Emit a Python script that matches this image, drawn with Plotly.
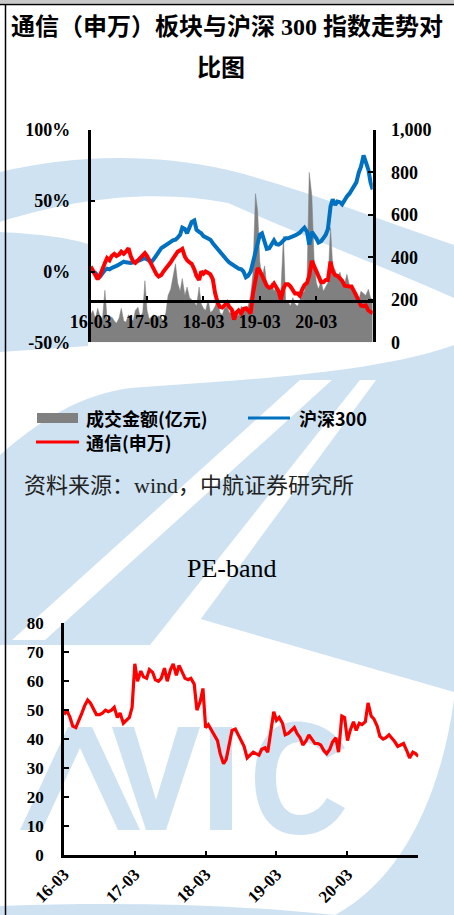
import pandas as pd
import plotly.graph_objects as go

W, H = 454, 915

# ---------------- data ----------------
dates = pd.date_range("2016-03-01", periods=121, freq="SMS")
year_ticks = ["2016-03-01", "2017-03-01", "2018-03-01", "2019-03-01", "2020-03-01"]
year_labels = ["16-03", "17-03", "18-03", "19-03", "20-03"]

hs300 = [2, 0, -1, -3, -3.5, -1, 1, 2, 1.5, 2.5,
         3, 4, 5, 6, 7, 6.5, 6, 6, 6.5, 7,
         7, 8, 9, 9.5, 8.5, 7.5, 7, 9, 12, 14,
         16.5, 17.5, 19, 20, 21, 22, 22.5, 24, 26, 31,
         30, 27, 30.5, 35, 36, 29.5, 28, 27, 25, 24,
         23, 22.5, 20, 18, 16, 14.5, 12, 10, 8, 6.5,
         5, 4, 3, 2, 1.5, 0, -4, -3, 0, 6,
         12, 17.5, 26, 27, 21, 16, 16.5, 18.5, 22, 19.5,
         19, 20, 21.5, 23.5, 23.5, 24, 24.5, 25.5, 26.5, 27.5,
         29.5, 31, 28, 19, 28, 26, 23.5, 20.5, 21.5, 23.5,
         26, 30, 46, 51, 47, 49.5, 49, 47.5, 51, 53,
         55, 57.5, 59.5, 63, 70, 74, 82, 78, 72, 63, 58]

telecom = [3.5, 1, -3, -5.5, -2.5, 2, 6, 9.5, 8, 11,
           12.5, 11, 12, 14, 12.5, 14, 16.5, 11, 7, 6,
           8, 10, 11.5, 13, 11, 8, 5.5, 1, -2, -3.5,
           -2.5, 0, 2, 3.5, 6.5, 9, 12, 14, 15, 16,
           10.5, 8, 6.5, 5.5, 1.5, -3, -6, 0, -1.5, 0,
           -1, -2, -5.5, -15, -22, -25, -25.5, -23.5, -22, -25,
           -27, -34, -29, -27.5, -29.5, -26.5, -26, -27.5, -29.5, -16,
           -6, 2.5, 0.5, -3, -7, -10, -11.5, -11, -8.5, -11,
           -14, -20, -12, -9, -9, -10.5, -13.5, -15.5, -15.5, -17,
           -12.5, -9.5, -8, -3, 7.5, 4, 0.5, -3.5, -7.5, -7.5,
           -6, -6, 7, 0, -2.5, -3, -4.5, -6.5, -10, -10.5,
           -10.5, -10.5, -13.5, -17, -21, -24, -24.5, -24, -27.5, -28.5, -29.5]

turnover = [130, 150, 110, 160, 120, 100, 245, 110, 95, 120,
            100, 90, 115, 160, 100, 95, 130, 110, 100, 150,
            165, 120, 140, 290, 150, 110, 120, 130, 105, 125,
            115, 100, 140, 220, 250, 310, 370, 280, 240, 300,
            220, 260, 210, 200, 190, 170, 260, 180, 160, 150,
            200, 140, 150, 170, 200, 140, 130, 160, 170, 140,
            135, 150, 120, 130, 170, 150, 160, 170, 220, 320,
            700, 620, 380, 300, 360, 270, 250, 280, 240, 260,
            230, 230, 500, 200, 190, 170, 210, 180, 170, 200,
            230, 240, 300, 800, 690, 400, 280, 250, 290, 240,
            260, 280, 540, 360, 340, 300, 330, 290, 280, 320,
            270, 260, 230, 210, 200, 240, 230, 220, 250, 210, 200]

pe = [48.5, 50, 47.5, 44.5, 44, 46, 49, 51.5, 53.5, 52.5,
      50, 48.5, 48.5, 49, 50, 49.5, 50, 51, 47.5, 49,
      45.5, 46.5, 47.5, 51, 66, 60, 63.5, 61.5, 61, 64,
      63, 60.5, 60, 61, 64.5, 60, 64, 66, 62, 65.5,
      63, 61, 60.5, 61, 59, 50, 53, 57.5, 44, 45,
      43, 41.5, 39.5, 35, 31.5, 33, 38, 43, 43.5, 41.5,
      39, 37.5, 33.5, 34.5, 35.5, 35, 34.5, 36.5, 37, 35.5,
      44, 49.5, 46.5, 47.5, 45.5, 41.5, 42, 43, 44, 42,
      40.5, 38, 39.5, 41.5, 40, 38.5, 38.5, 38, 36, 35,
      36.5, 39, 40.5, 35.5, 48, 47.5, 39.5, 43, 46, 43,
      45.5, 45, 46, 52.5, 48, 47, 44.5, 41, 40, 40.5,
      41.5, 40.5, 39, 37.5, 38, 38.5, 36, 33.5, 35.5, 35, 34]

pct_ticks = [-50, 0, 50, 100]
pct_labels = ["-50%", "0%", "50%", "100%"]

# ---------------- helpers ----------------
SERIF = "Liberation Serif, Noto Sans CJK SC"
CJK = "Noto Sans CJK SC"
WM = "#cfe2f2"


def px_path(s):
    toks = s.replace(",", " ").split()
    out, nums = [], []
    for t in toks:
        if t.isalpha():
            out.append(t)
        else:
            nums.append(float(t))
            if len(nums) == 2:
                out.append(f"{nums[0] / W:.5f},{1 - nums[1] / H:.5f}")
                nums = []
    return " ".join(out)


def px(x):
    return x / W


def py(y):
    return 1 - y / H


fig = go.Figure()

# chart 1: turnover area (right axis, base), lines on left axis (overlay)
fig.add_trace(go.Scatter(x=dates, y=turnover, name="成交金额(亿元)", mode="lines",
                         fill="tozeroy", fillcolor="#808080",
                         line=dict(color="#808080", width=0.5),
                         xaxis="x", yaxis="y", showlegend=False))
fig.add_trace(go.Scatter(x=dates, y=hs300, name="沪深300", mode="lines",
                         line=dict(color="#0070C0", width=4),
                         xaxis="x", yaxis="y2", showlegend=False))
fig.add_trace(go.Scatter(x=dates, y=telecom, name="通信(申万)", mode="lines",
                         line=dict(color="#FF0000", width=4),
                         xaxis="x", yaxis="y2", showlegend=False))
# chart 2: PE band
fig.add_trace(go.Scatter(x=dates, y=pe, name="PE", mode="lines",
                         line=dict(color="#FF0000", width=3.2),
                         xaxis="x3", yaxis="y3", showlegend=False))

tick_font = dict(family="Liberation Serif", size=18, color="black", weight="bold")

fig.update_layout(
    width=W, height=H, autosize=False,
    margin=dict(l=0, r=0, t=0, b=0, autoexpand=False),
    paper_bgcolor="white", plot_bgcolor="rgba(0,0,0,0)",
    xaxis=dict(domain=[px(90.7), px(372.7)], anchor="free", position=py(300.7),
               range=["2016-03-01", "2021-03-01"], tickmode="array",
               tickvals=year_ticks, ticktext=year_labels,
               ticks="inside", ticklen=4, tickwidth=2, tickcolor="black",
               showline=True, linecolor="black", linewidth=2.5,
               showgrid=False, zeroline=False, tickfont=tick_font,
               ticklabelstandoff=4, automargin=False),
    yaxis=dict(domain=[py(342.3), py(130)], anchor="x", side="right",
               range=[0, 1000], tickvals=[0, 200, 400, 600, 800, 1000],
               tickformat=",", ticks="inside", ticklen=5, tickwidth=2,
               tickcolor="black", showline=True, linecolor="black", linewidth=2.5,
               showgrid=False, zeroline=False, tickfont=tick_font,
               ticklabelstandoff=12, automargin=False),
    yaxis2=dict(domain=[py(342.3), py(130)], overlaying="y", anchor="x", side="left",
                range=[-50, 100], tickvals=pct_ticks, ticktext=pct_labels,
                ticks="inside", ticklen=5, tickwidth=2, tickcolor="black",
                showline=True, linecolor="black", linewidth=2.5,
                showgrid=False, zeroline=False, tickfont=tick_font,
                ticklabelstandoff=14, automargin=False),
    xaxis3=dict(domain=[px(64), px(418.3)], anchor="y3",
                range=["2016-03-01", "2021-03-01"], tickmode="array",
                tickvals=year_ticks, ticktext=year_labels, tickangle=-45,
                ticks="inside", ticklen=4, tickwidth=2, tickcolor="black",
                showline=True, linecolor="black", linewidth=2.5,
                showgrid=False, zeroline=False, automargin=False,
                tickfont=dict(family="Liberation Serif", size=17, color="black", weight="bold")),
    yaxis3=dict(domain=[py(855), py(623.3)], anchor="x3", range=[0, 80], dtick=10,
                ticks="inside", ticklen=5, tickwidth=2, tickcolor="black",
                showline=True, linecolor="black", linewidth=2.5,
                showgrid=False, zeroline=False, automargin=False,
                tickfont=dict(family="Liberation Serif", size=17, color="black", weight="bold"),
                ticklabelstandoff=14),
)

shapes = []
# ---------- watermark (decorative background) ----------
wm_paths = [
    "M 0 172 C 60 158 140 150 228 170 C 300 188 380 220 454 245 L 454 298 C 380 265 300 235 228 203 C 150 188 70 200 0 222 Z",
    "M 0 232 C 40 234 70 238 88 244 L 88 346 C 60 348 30 350 0 352 Z",
    "M 0 455 C 40 420 80 395 130 388 C 250 380 380 372 454 345 L 454 692 L 197 618 L 180 645 L 0 645 Z",
    "M 454 700 C 440 800 400 880 335 915 L 454 915 Z",
    "M 0 906 C 120 902 230 904 335 915 L 0 915 Z",
    # AVIC letters
    "M 20 830 L 68 727 L 92 727 L 140 830 L 118 830 L 80 748 L 42 830 Z",
    "M 112 727 L 134 727 L 156 800 L 178 727 L 200 727 L 166 830 L 146 830 Z",
    "M 210 727 L 232 727 L 232 830 L 210 830 Z",
    "M 345 748 C 330 722 300 720 290 722 C 260 728 255 760 255 778 C 255 800 262 835 300 835 C 320 835 335 825 345 808 L 327 798 C 320 810 310 815 300 815 C 282 815 276 795 276 778 C 276 760 282 742 300 742 C 312 742 320 748 327 758 Z",
]
for p in wm_paths:
    shapes.append(dict(type="path", path=px_path(p), xref="paper", yref="paper",
                       fillcolor=WM, line=dict(width=0), layer="below"))
white_paths = [
    "M 300 380 L 332 380 L 45 640 L 12 640 Z",
    "M 360 380 L 376 380 L 200 620 L 195 645 L 150 645 Z",
]
for p in white_paths:
    shapes.append(dict(type="path", path=px_path(p), xref="paper", yref="paper",
                       fillcolor="white", line=dict(width=0), layer="below"))

# ---------- page frame ----------
shapes.append(dict(type="rect", xref="paper", yref="paper", x0=0, x1=1, y0=py(3.5), y1=1,
                   fillcolor="#c8c8c8", line=dict(width=0), layer="above"))
shapes.append(dict(type="line", xref="paper", yref="paper", x0=0, x1=1, y0=py(4.5), y1=py(4.5),
                   line=dict(color="black", width=1.5), layer="above"))
shapes.append(dict(type="line", xref="paper", yref="paper", x0=px(5.5), x1=px(5.5), y0=0, y1=py(4),
                   line=dict(color="black", width=1.5), layer="above"))

# ---------- manual legend ----------
shapes.append(dict(type="rect", xref="paper", yref="paper", x0=px(37), x1=px(78),
                   y0=py(423), y1=py(413), fillcolor="#808080", line=dict(width=0)))
shapes.append(dict(type="line", xref="paper", yref="paper", x0=px(248), x1=px(290),
                   y0=py(418), y1=py(418), line=dict(color="#0070C0", width=3)))
shapes.append(dict(type="line", xref="paper", yref="paper", x0=px(36), x1=px(79),
                   y0=py(442), y1=py(442), line=dict(color="#FF0000", width=3)))

fig.update_layout(shapes=shapes)

ann = []
ann.append(dict(text="通信（申万）板块与沪深 300 指数走势对", x=px(9), y=py(27),
                xanchor="left", yanchor="middle",
                font=dict(family=SERIF, size=24, color="black", weight="bold")))
ann.append(dict(text="比图", x=px(221), y=py(68), xanchor="center", yanchor="middle",
                font=dict(family=SERIF, size=24, color="black", weight="bold")))
leg_font = dict(family=CJK, size=18, color="black", weight="bold")
ann.append(dict(text="成交金额(亿元)", x=px(84), y=py(418), xanchor="left", yanchor="middle", font=leg_font))
ann.append(dict(text="沪深300", x=px(297), y=py(418), xanchor="left", yanchor="middle", font=leg_font))
ann.append(dict(text="通信(申万)", x=px(84), y=py(442), xanchor="left", yanchor="middle", font=leg_font))
ann.append(dict(text="资料来源：wind，中航证券研究所", x=px(22), y=py(486), xanchor="left", yanchor="middle",
                font=dict(family=SERIF, size=22, color="#222222")))
ann.append(dict(text="PE-band", x=px(232), y=py(568), xanchor="center", yanchor="middle",
                font=dict(family="Liberation Serif", size=26, color="black")))
for a in ann:
    a.update(xref="paper", yref="paper", showarrow=False)
fig.update_layout(annotations=ann)

fig.write_html("out.html")
